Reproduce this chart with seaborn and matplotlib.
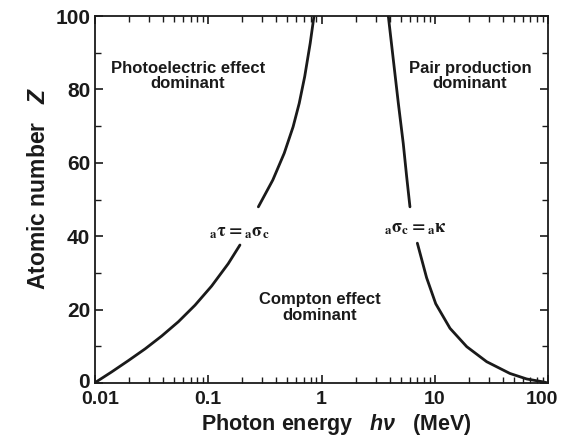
import numpy as np
import pandas as pd
import matplotlib
matplotlib.use("Agg")
import matplotlib.pyplot as plt
import matplotlib.transforms as mtransforms
import seaborn as sns

# --- data ---
# Boundary: photoelectric = Compton  (energy MeV, atomic number Z)
pe_lower_energy = [0.0103, 0.0140, 0.0197, 0.0277, 0.0388, 0.0545, 0.0764, 0.107, 0.150, 0.1905]
pe_lower_z = [0.35, 3.0, 6.1, 9.3, 12.8, 16.7, 21.2, 26.4, 32.5, 37.6]
pe_upper_energy = [0.277, 0.3715, 0.4685, 0.5613, 0.6356, 0.7107, 0.795, 0.8587]
pe_upper_z = [48.0, 55.3, 62.6, 69.8, 76.2, 83.5, 92.6, 100.0]

# Boundary: Compton = pair production
pp_upper_energy = [3.89, 4.31, 4.77, 5.27, 5.65, 6.04]
pp_upper_z = [100.0, 88.0, 76.2, 65.3, 56.2, 48.0]
pp_lower_energy = [7.02, 8.47, 10.2, 13.64, 19.16, 28.75, 46.1, 64.8, 90.8, 100.0]
pp_lower_z = [38.1, 28.7, 21.6, 14.9, 9.9, 5.8, 2.6, 1.1, 0.3, 0.0]

x_ticks = [0.01, 0.1, 1, 10, 100]
x_tick_labels = ["0.01", "0.1", "1", "10", "100"]
y_ticks = [0, 20, 40, 60, 80, 100]
y_minor_ticks = [10, 30, 50, 70, 90]

region_labels = ["Photoelectric effect\ndominant", "Pair production\ndominant",
                 "Compton effect\ndominant"]
region_x = [0.066, 20.5, 0.97]
region_y = [83.6, 83.6, 20.5]

curve_labels = [r"${}_{\mathrm{a}}\mathrm{\tau}={}_{\mathrm{a}}\mathrm{\sigma}_{\mathrm{c}}$",
                r"${}_{\mathrm{a}}\mathrm{\sigma}_{\mathrm{c}}={}_{\mathrm{a}}\mathrm{\kappa}$"]
curve_label_x = [0.19, 6.7]
curve_label_y = [41.0, 42.2]

# --- styling ---
sns.set_style("ticks")
plt.rcParams["font.family"] = ["Liberation Sans", "DejaVu Sans"]
plt.rcParams["font.weight"] = "bold"
plt.rcParams["mathtext.fontset"] = "custom"
plt.rcParams["mathtext.rm"] = "Liberation Sans:bold"
plt.rcParams["mathtext.it"] = "Liberation Sans:italic:bold"
plt.rcParams["mathtext.bf"] = "Liberation Sans:bold"

ink = "#1a1a1a"
fig = plt.figure(figsize=(5.62, 4.37), dpi=100)
ax = fig.add_axes([95 / 562, 1 - 383 / 437, (548 - 95) / 562, (383 - 16) / 437])

segments = [
    (pe_lower_energy, pe_lower_z),
    (pe_upper_energy, pe_upper_z),
    (pp_upper_energy, pp_upper_z),
    (pp_lower_energy, pp_lower_z),
]
for xs, ys in segments:
    df = pd.DataFrame({"energy": xs, "Z": ys})
    sns.lineplot(data=df, x="energy", y="Z", ax=ax, color=ink,
                 linewidth=2.0, sort=False, estimator=None)

ax.set_xscale("log")
ax.set_xlim(0.01, 100)
ax.set_ylim(0, 100)
ax.set_xticks(x_ticks)
ax.set_xticklabels(x_tick_labels)
ax.set_yticks(y_ticks)
ax.set_yticks(y_minor_ticks, minor=True)
ax.xaxis.set_minor_locator(matplotlib.ticker.LogLocator(base=10, subs=np.arange(2, 10)))
ax.xaxis.set_minor_formatter(matplotlib.ticker.NullFormatter())

ax.tick_params(which="both", direction="in", top=True, right=True, color=ink)
ax.tick_params(which="major", length=6, width=1.2)
ax.tick_params(which="minor", length=4, width=1.0)
ax.tick_params(axis="x", which="major", labelsize=14, pad=6)
ax.tick_params(axis="y", which="major", labelsize=15, pad=3.5)
for lab in ax.get_xticklabels() + ax.get_yticklabels():
    lab.set_fontweight("bold")
    lab.set_color(ink)
for s in ax.spines.values():
    s.set_linewidth(1.3)
    s.set_color(ink)

# nudge the corner tick labels apart, as in the reference
xt = ax.xaxis.get_major_ticks()
xt[0].label1.set_transform(xt[0].label1.get_transform()
                           + mtransforms.ScaledTranslation(5 / 100, 0, fig.dpi_scale_trans))
xt[-1].label1.set_transform(xt[-1].label1.get_transform()
                            + mtransforms.ScaledTranslation(-6 / 100, 0, fig.dpi_scale_trans))
yt = ax.yaxis.get_major_ticks()
yt[0].label1.set_transform(yt[0].label1.get_transform()
                           + mtransforms.ScaledTranslation(0, 3 / 100, fig.dpi_scale_trans))

ax.set_xlabel(r"Photon energy   $h\nu$   (MeV)", fontsize=15.5, fontweight="bold", color=ink)
ax.set_ylabel(r"Atomic number   $Z$", fontsize=16.5, fontweight="bold", color=ink)
ax.xaxis.set_label_coords(0.533, -0.078)
ax.yaxis.set_label_coords(-0.10, 0.53)

for t, x, y in zip(region_labels, region_x, region_y):
    ax.text(x, y, t, ha="center", va="center", fontsize=12, fontweight="bold",
            linespacing=1.05, color=ink)
for t, x, y in zip(curve_labels, curve_label_x, curve_label_y):
    ax.text(x, y, t, ha="center", va="center", fontsize=13, color=ink,
            fontweight="normal", math_fontfamily="stix")

sns.despine(ax=ax, top=False, right=False)
fig.savefig("out.png", dpi=100, facecolor="white")
